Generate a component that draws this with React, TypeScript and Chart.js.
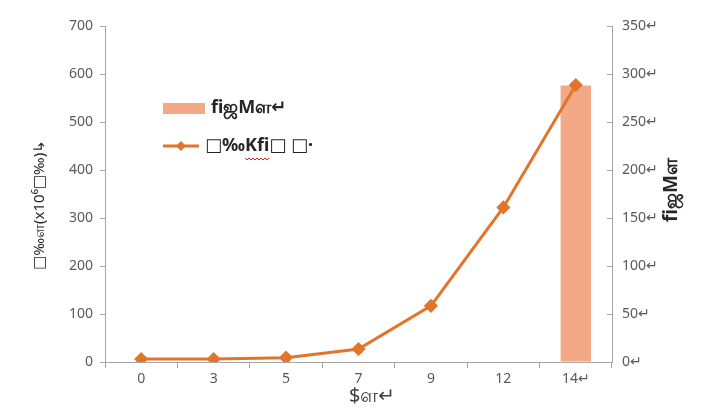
import React, { useEffect, useRef } from "react";
import { Chart, registerables } from "chart.js";

Chart.register(...registerables);

const categories = ["0", "3", "5", "7", "9", "12", "14↵"];
const lineValues = [6, 6, 9, 27, 117, 322, 577];
const barValues = [null, null, null, null, null, null, 288];
const barLabel = "ﬁஜMள↵";
const lineLabel = "□‰Kﬁ□ □·";
const xTitle = "$ள↵";
const yTitle = "□‰ள(x10⁶□‰)↳";
const y1Title = "ﬁஜMள";

const LINE_COLOR = "#E2752B";
const BAR_COLOR = "#F3A986";
const AXIS_COLOR = "#A6A6A6";
const TICK_COLOR = "#595959";
const FONT = "'Noto Sans', 'DejaVu Sans', sans-serif";

const overlay = {
  id: "overlay",
  afterDraw(chart: any) {
    const ctx = chart.ctx;
    const area = chart.chartArea;
    ctx.save();
    // inward ticks on right axis
    const y1 = chart.scales.y1;
    ctx.strokeStyle = AXIS_COLOR;
    ctx.lineWidth = 1;
    for (const t of y1.ticks) {
      const py = Math.round(y1.getPixelForValue(t.value)) + 0.5;
      ctx.beginPath();
      ctx.moveTo(area.right - 5, py);
      ctx.lineTo(area.right, py);
      ctx.stroke();
    }

    // legend
    ctx.fillStyle = BAR_COLOR;
    ctx.fillRect(163, 103, 42, 11);
    ctx.fillStyle = "#262626";
    ctx.font = `bold 18px ${FONT}`;
    ctx.textBaseline = "middle";
    ctx.textAlign = "left";
    ctx.fillText(barLabel, 211, 108);

    ctx.strokeStyle = LINE_COLOR;
    ctx.lineWidth = 3;
    ctx.beginPath();
    ctx.moveTo(163, 146);
    ctx.lineTo(199, 146);
    ctx.stroke();
    ctx.fillStyle = LINE_COLOR;
    ctx.beginPath();
    ctx.moveTo(181, 141);
    ctx.lineTo(186, 146);
    ctx.lineTo(181, 151);
    ctx.lineTo(176, 146);
    ctx.closePath();
    ctx.fill();
    ctx.fillStyle = "#262626";
    ctx.font = `bold 18px ${FONT}`;
    ctx.fillText(lineLabel, 205, 146);
    // red wavy underline under Kfi
    const w0 = ctx.measureText("□‰").width;
    const w1 = ctx.measureText("□‰Kﬁ").width;
    ctx.strokeStyle = "#E0201B";
    ctx.lineWidth = 1;
    ctx.beginPath();
    let first = true;
    for (let x = 205 + w0; x <= 205 + w1; x += 2) {
      const yy = 158 + (Math.round((x - 205 - w0) / 2) % 2 ? 2 : 0);
      if (first) {
        ctx.moveTo(x, yy);
        first = false;
      } else ctx.lineTo(x, yy);
    }
    ctx.stroke();

    // x title
    ctx.fillStyle = "#404040";
    ctx.font = `20px ${FONT}`;
    ctx.textAlign = "center";
    ctx.fillText(xTitle, 372, 396);

    // left title
    ctx.save();
    ctx.translate(40, 205);
    ctx.rotate(-Math.PI / 2);
    ctx.font = `15px ${FONT}`;
    ctx.fillStyle = "#262626";
    ctx.fillText(yTitle, 0, 0);
    ctx.restore();

    // right title
    ctx.save();
    ctx.translate(672, 190);
    ctx.rotate(-Math.PI / 2);
    ctx.font = `bold 19px ${FONT}`;
    ctx.fillStyle = "#262626";
    ctx.fillText(y1Title, 0, 0);
    ctx.restore();

    ctx.restore();
  },
};

export default function App() {
  const ref = useRef<HTMLCanvasElement>(null);
  useEffect(() => {
    if (!ref.current) return;
    const chart = new Chart(ref.current, {
      type: "bar",
      data: {
        labels: categories,
        datasets: [
          {
            type: "line",
            label: lineLabel,
            data: lineValues,
            yAxisID: "y",
            borderColor: LINE_COLOR,
            backgroundColor: LINE_COLOR,
            borderWidth: 3,
            pointStyle: "rectRot",
            pointRadius: 5,
            tension: 0,
            order: 0,
          } as any,
          {
            type: "bar",
            label: barLabel,
            data: barValues,
            yAxisID: "y1",
            backgroundColor: BAR_COLOR,
            categoryPercentage: 1,
            barPercentage: 0.42,
            order: 1,
          } as any,
        ],
      },
      options: {
        animation: false,
        responsive: true,
        maintainAspectRatio: false,
        layout: { padding: { top: 26, left: 0, right: 0, bottom: 0 } },
        plugins: { legend: { display: false }, tooltip: { enabled: false } },
        scales: {
          x: {
            offset: true,
            grid: {
              offset: true,
              drawOnChartArea: false,
              drawTicks: true,
              tickLength: 6,
              color: AXIS_COLOR,
            },
            border: { color: AXIS_COLOR, width: 1 },
            ticks: { color: TICK_COLOR, font: { size: 14, family: FONT }, padding: 3, maxRotation: 0 },
            afterFit(scale: any) {
              scale.height = 55;
            },
          },
          y: {
            position: "left",
            min: 0,
            max: 700,
            ticks: { stepSize: 100, color: TICK_COLOR, font: { size: 14, family: FONT }, padding: 7 },
            grid: { drawOnChartArea: false, tickLength: 5, color: AXIS_COLOR },
            border: { color: AXIS_COLOR, width: 1 },
            afterFit(scale: any) {
              scale.width = 105;
            },
          },
          y1: {
            position: "right",
            min: 0,
            max: 350,
            ticks: {
              stepSize: 50,
              color: TICK_COLOR,
              font: { size: 14, family: FONT },
              padding: 10,
              callback: (v: any) => v + "↵",
            },
            grid: { drawOnChartArea: false, drawTicks: false, tickLength: 0, color: AXIS_COLOR },
            border: { color: AXIS_COLOR, width: 1 },
            afterFit(scale: any) {
              scale.width = 94;
            },
          },
        },
      },
      plugins: [overlay],
    });
    return () => chart.destroy();
  }, []);
  return (
    <div style={{ position: "absolute", left: 0, top: 0, width: 706, height: 417, background: "#fff" }}>
      <canvas ref={ref} />
    </div>
  );
}
